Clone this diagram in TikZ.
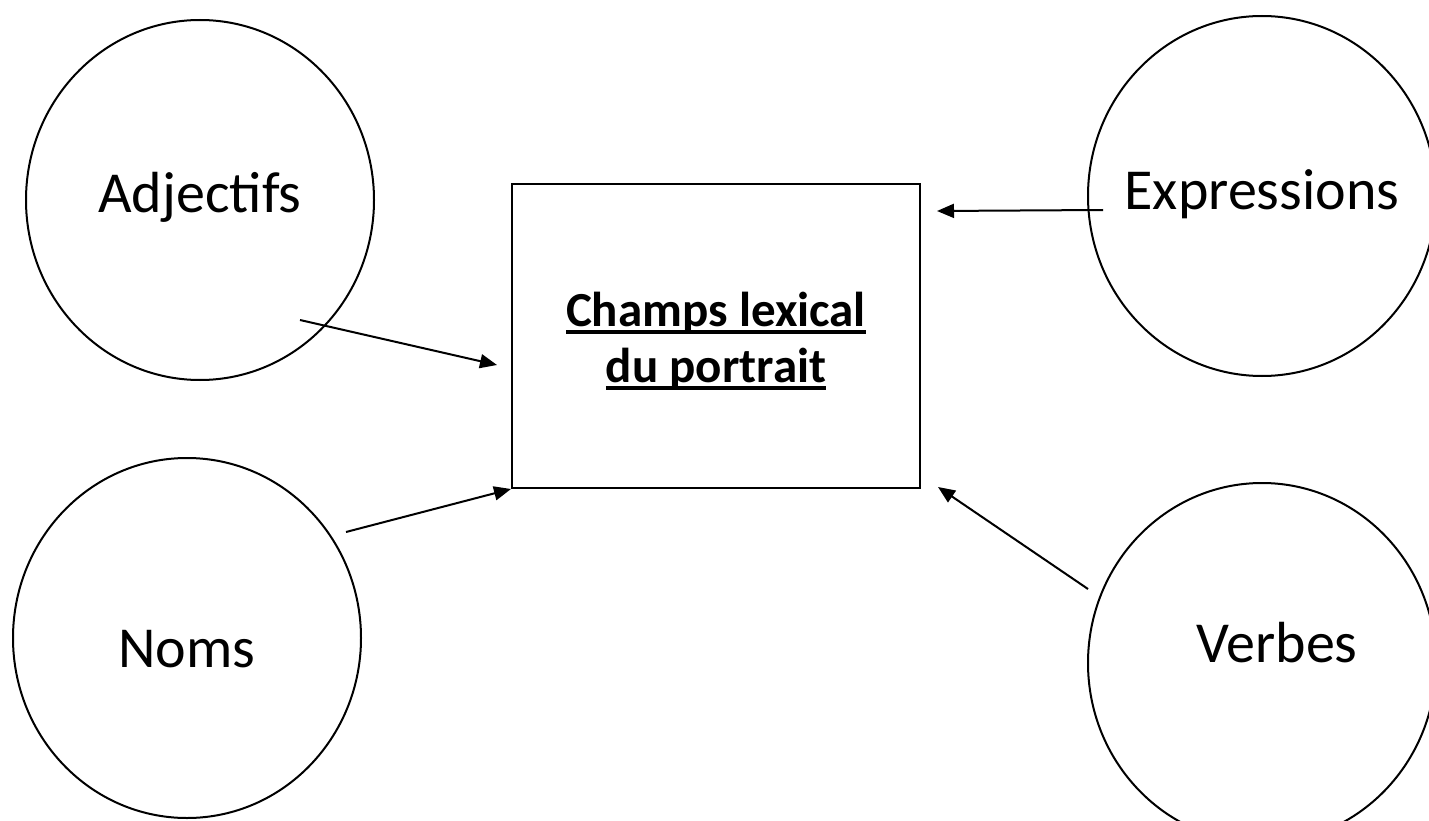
\documentclass[tikz,border=0pt]{standalone}
\usepackage{fontspec}
\setmainfont{Carlito}
\usetikzlibrary{shapes.geometric,arrows.meta}
\newcommand\myul[1]{\setbox0\hbox{#1}\rlap{\vrule height -4pt depth 7.5pt width \wd0}\box0}
\begin{document}
\begin{tikzpicture}[x=1pt,y=-1pt,
  bubble/.style={draw=black,line width=2pt,ellipse,minimum width=348pt,minimum height=360pt,inner sep=0pt},
  bubbletext/.style={anchor=base,inner sep=0pt,font=\fontsize{58}{64}\selectfont},
  centerbox/.style={draw=black,line width=2pt,rectangle,minimum width=408pt,minimum height=304pt,inner sep=0pt},
  arr/.style={line width=2pt,-{Triangle[length=17pt,width=14pt]}}]
\useasboundingbox (0,0) rectangle (1429,821);
\node[bubble] (adj) at (200,200) {};
\node[bubble] (noms) at (187,638) {};
\node[bubble] (expr) at (1262,196) {};
\node[bubble] (verb) at (1262,663) {};
\node[bubbletext] (adjt) at (200,213) {Adjectifs};
\node[bubbletext] (nomst) at (187,667) {Noms};
\node[bubbletext] (exprt) at (1262,210) {Expressions};
\node[bubbletext] (verbt) at (1277,662) {Verbes};
\node[centerbox] (box) at (716,336) {};
\node[align=center,font=\bfseries\fontsize{49}{56}\selectfont] (title) at (716,341) {\myul{Champs lexical}\\\myul{du portrait}};
\coordinate (a1) at (300,320);
\coordinate (a2) at (497,365);
\coordinate (n1) at (346,532);
\coordinate (e1) at (1103,210);
\coordinate (e2) at (937,211);
\coordinate (v1) at (1088,589);
\coordinate (v2) at (938,487);
\draw[arr] (a1) -- (a2);
\draw[arr] (n1) -- (box.south west);
\draw[arr] (e1) -- (e2);
\draw[arr] (v1) -- (v2);
\end{tikzpicture}
\end{document}
